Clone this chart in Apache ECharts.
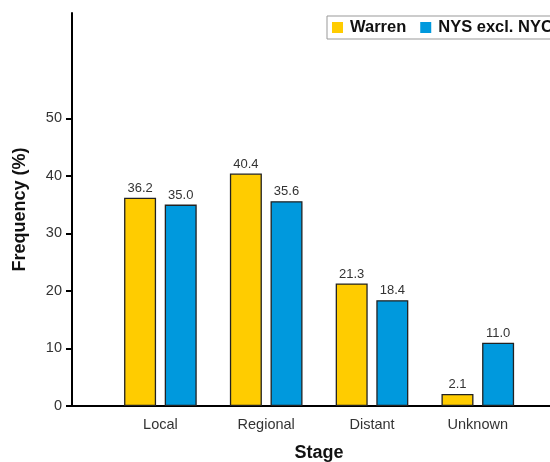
<!DOCTYPE html>
<html>
<head>
<meta charset="utf-8">
<script src="https://cdn.jsdelivr.net/npm/echarts@6/dist/echarts.min.js"></script>
<style>html,body{margin:0;padding:0;background:#fff}#c{width:550px;height:462px}</style>
</head>
<body>
<div id="c"></div>
<script>
const categories = ['Local', 'Regional', 'Distant', 'Unknown'];
const warren = [36.2, 40.4, 21.3, 2.1];
const nysExclNyc = [35.0, 35.6, 18.4, 11.0];
const yTicks = [0, 10, 20, 30, 40, 50];
const seriesNames = ['Warren', 'NYS excl. NYC'];

const FONT = '"Liberation Sans", Arial, sans-serif';
const chart = echarts.init(document.getElementById('c'), null, {renderer: 'canvas'});
const labelCfg = {
  show: true, position: 'top', distance: 3,
  color: '#333', fontSize: 13, fontFamily: FONT,
  formatter: p => p.value.toFixed(1)
};
chart.setOption({
  animation: false,
  backgroundColor: '#fff',
  textStyle: {fontFamily: FONT},
  legend: {
    left: 327, top: 16, width: 320,
    padding: [3, 5, 3, 5],
    borderColor: '#999', borderWidth: 1,
    itemWidth: 11, itemHeight: 11, itemGap: 14,
    icon: 'rect',
    itemStyle: {borderWidth: 0},
    textStyle: {fontSize: 16.5, fontWeight: 'bold', color: '#111', fontFamily: FONT, padding: [0, 0, 0, 2]},
    data: seriesNames
  },
  grid: [
    {left: 107.5, right: 19.3, top: 13, bottom: 56, containLabel: false, outerBoundsMode: 'none'},
    {left: 72, right: -20, top: 13, bottom: 56, containLabel: false, outerBoundsMode: 'none'}
  ],
  xAxis: [
    {
      type: 'category', gridIndex: 0, data: categories,
      axisLine: {show: false}, axisTick: {show: false},
      axisLabel: {margin: 11, fontSize: 14.5, color: '#333', fontFamily: FONT},
      name: 'Stage', nameLocation: 'middle', nameGap: 38,
      nameTextStyle: {fontSize: 18, fontWeight: 'bold', color: '#111', fontFamily: FONT}
    },
    {
      type: 'value', gridIndex: 1, min: 0, max: 1,
      axisLine: {show: true, lineStyle: {color: '#000', width: 2}},
      axisTick: {show: false}, axisLabel: {show: false}, splitLine: {show: false}
    }
  ],
  yAxis: [
    {
      type: 'value', gridIndex: 0, min: 0, max: 68.3, offset: 35.5,
      axisLine: {show: true, lineStyle: {color: '#000', width: 2}},
      axisTick: {show: true, length: 6, lineStyle: {color: '#000', width: 2}, customValues: yTicks},
      axisLabel: {margin: 10, fontSize: 14.5, color: '#333', fontFamily: FONT, customValues: yTicks},
      splitLine: {show: false},
      name: 'Frequency (%)', nameLocation: 'middle', nameGap: 43,
      nameTextStyle: {fontSize: 18, fontWeight: 'bold', color: '#111', fontFamily: FONT}
    },
    {type: 'value', gridIndex: 1, show: false}
  ],
  series: [
    {
      name: seriesNames[0], type: 'bar', xAxisIndex: 0, yAxisIndex: 0,
      data: warren, barWidth: 32, barGap: '27%',
      itemStyle: {color: '#FFCC00', borderColor: '#222', borderWidth: 1.3},
      label: labelCfg
    },
    {
      name: seriesNames[1], type: 'bar', xAxisIndex: 0, yAxisIndex: 0,
      data: nysExclNyc, barWidth: 32,
      itemStyle: {color: '#0099DD', borderColor: '#222', borderWidth: 1.3},
      label: labelCfg
    }
  ]
});
</script>
</body>
</html>
